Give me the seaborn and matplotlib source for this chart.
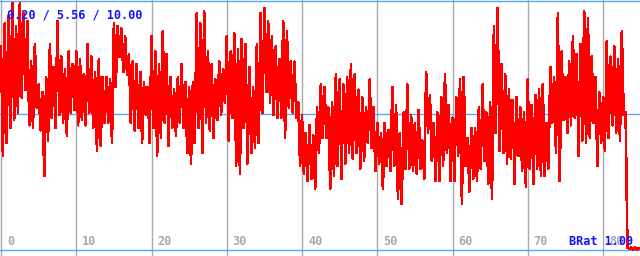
import numpy as np
import pandas as pd
import matplotlib
matplotlib.use("Agg")
import matplotlib.pyplot as plt
import seaborn as sns

# ---- data (4 samples per x unit) ----
seg_a = [8.2, 3.9, 9.1, 4.4, 9.4, 5.0, 9.9, 5.3, 9.0, 5.6, 9.9, 6.2, 9.5, 6.5, 9.2, 5.1,
         7.6, 5.0, 8.3, 5.8, 6.7, 4.9, 6.4, 3.1, 7.0, 4.5, 8.3, 5.4, 7.4, 5.0, 9.2, 5.5,
         7.8, 5.2, 7.3, 4.7, 8.0, 5.6, 7.5, 5.7, 8.0, 5.1, 7.7, 5.3, 7.1, 5.1, 8.3, 5.6,
         7.8, 5.0, 7.2, 4.1, 7.7, 4.3, 7.0, 5.2, 7.0, 5.2, 6.9, 4.4, 9.1, 6.6, 9.0, 7.8,
         8.9, 7.2, 8.6, 7.1, 7.9, 5.2, 7.6, 4.9, 7.5, 5.0, 7.2, 4.4, 6.8, 5.5, 6.6, 4.4]
seg_b = [8.6, 5.0, 8.0, 3.9, 7.5, 4.6, 8.8, 5.2, 7.9, 4.3, 7.0, 5.0, 6.5, 4.7, 7.0, 5.2,
         7.5, 5.0, 6.8, 4.0, 6.6, 3.6, 6.8, 4.4, 9.5, 5.0, 9.1, 4.0, 9.6, 5.2, 8.0, 4.9,
         7.5, 4.6, 6.9, 5.3, 7.6, 5.5, 7.3, 6.0, 8.6, 4.5, 8.0, 5.4, 8.7, 3.5, 8.1, 3.2,
         8.5, 5.0, 8.3, 3.6, 7.4, 4.0, 6.6, 4.2, 8.3, 4.4, 9.5, 5.6, 9.7, 6.4, 9.2, 6.0,
         8.6, 5.5, 8.2, 5.4, 7.7, 5.4, 9.2, 4.6, 8.8, 5.8, 7.6, 5.6, 7.6, 5.4, 6.0, 3.5]
seg_c = [5.5, 3.2, 4.8, 2.9, 5.1, 3.0, 4.7, 2.6, 5.8, 4.0, 6.7, 4.6, 6.6, 4.6, 5.8, 2.6,
         6.0, 3.1, 7.1, 3.5, 6.9, 3.0, 6.7, 3.6, 7.0, 4.0, 7.5, 3.8, 7.1, 4.0, 6.5, 3.4,
         6.2, 3.7, 5.8, 4.4, 6.9, 4.2, 5.8, 3.3, 5.2, 3.6, 4.8, 2.6, 5.2, 3.5, 4.9, 3.3,
         6.6, 3.5, 5.9, 2.2, 4.8, 2.0, 5.6, 3.4, 6.7, 3.4, 5.5, 3.3, 5.2, 3.2, 5.7, 3.4,
         4.5, 3.0, 7.2, 4.8, 6.3, 3.7, 5.2, 2.9, 5.6, 2.9, 6.2, 3.5, 7.1, 4.0, 5.9, 2.9]
seg_d = [5.4, 2.9, 6.2, 3.9, 6.9, 2.0, 7.0, 3.5, 4.6, 2.5, 5.0, 3.0, 5.0, 2.9, 5.8, 3.4,
         6.7, 3.7, 5.6, 2.8, 6.0, 2.2, 9.0, 4.8, 9.7, 4.1, 7.5, 4.0, 7.1, 3.6, 6.5, 3.8,
         6.1, 2.8, 6.2, 3.9, 5.8, 3.3, 5.6, 2.7, 6.9, 3.4, 5.9, 2.8, 6.3, 3.4, 6.5, 3.1,
         6.7, 3.1, 5.2, 3.4, 7.4, 5.2, 7.0, 4.0, 9.5, 2.9, 8.0, 5.3, 7.0, 4.8, 7.6, 5.1,
         8.6, 5.4, 7.9, 3.9, 8.3, 4.5, 9.6, 4.4, 9.3, 4.6, 7.8, 5.2, 7.0, 3.5, 6.4, 4.4,
         6.2, 4.1, 8.4, 4.6, 7.8, 5.1, 8.2, 4.8, 7.7, 4.5, 8.8, 5.5]
seg_tail = [5.6, 0.3, 0.25, 0.3, 0.22, 0.3, 0.22, 0.28, 0.25]

x_ticks = [0, 10, 20, 30, 40, 50, 60, 70, 80]
y_min, y_mean, y_max = 0.20, 5.56, 10.00
stats_label = "0.20 / 5.56 / 10.00"
ratio_label = "BRat 1.09"

values = seg_a + seg_b + seg_c + seg_d + seg_tail
step = 0.25
df = pd.DataFrame({"x": np.arange(len(values)) * step, "y": values})

# ---- figure ----
W, H, DPI = 640, 256, 100
fig = plt.figure(figsize=(W / DPI, H / DPI), dpi=DPI)
ax = fig.add_axes([0, 0, 1, 1])

px_per_unit = 7.525
ax.set_xlim(-1 / px_per_unit, (W - 1) / px_per_unit)
vpp = 9.8 / 250.0
ax.set_ylim(y_min - 6 * vpp, y_max + 0.6 * vpp)

for s in ax.spines.values():
    s.set_visible(False)
ax.set_xticks(x_ticks)
ax.set_yticks([])
ax.tick_params(axis="x", length=0, labelbottom=False)
ax.xaxis.grid(True, color="#aaaaaa", linewidth=1.0, zorder=0)
ax.set_axisbelow(True)

for yv in (y_min, y_mean, y_max):
    ax.axhline(yv, color="#5aa8f5", linewidth=1.0, zorder=1)

sns.lineplot(data=df, x="x", y="y", ax=ax, color="#ff0000", linewidth=1.15,
             estimator=None, sort=False, legend=False, zorder=2, antialiased=False)
ax.set_xlabel("")
ax.set_ylabel("")

mono = dict(family="DejaVu Sans Mono", weight="bold", size=8.6)
for t in x_ticks:
    ax.annotate(str(t), xy=(t, y_min), xytext=(6, 5), textcoords="offset pixels",
                ha="left", va="baseline", color="#aaaaaa", zorder=3, **mono)

ax.text(7 / W, 1 - 19 / H, stats_label, transform=ax.transAxes, ha="left",
        va="baseline", color="#1414ff", zorder=5, **mono)
ax.text(633 / W, 1 - 245 / H, ratio_label, transform=ax.transAxes, ha="right",
        va="baseline", color="#1414ff", zorder=5, **mono)

fig.savefig("out.png", dpi=DPI)
